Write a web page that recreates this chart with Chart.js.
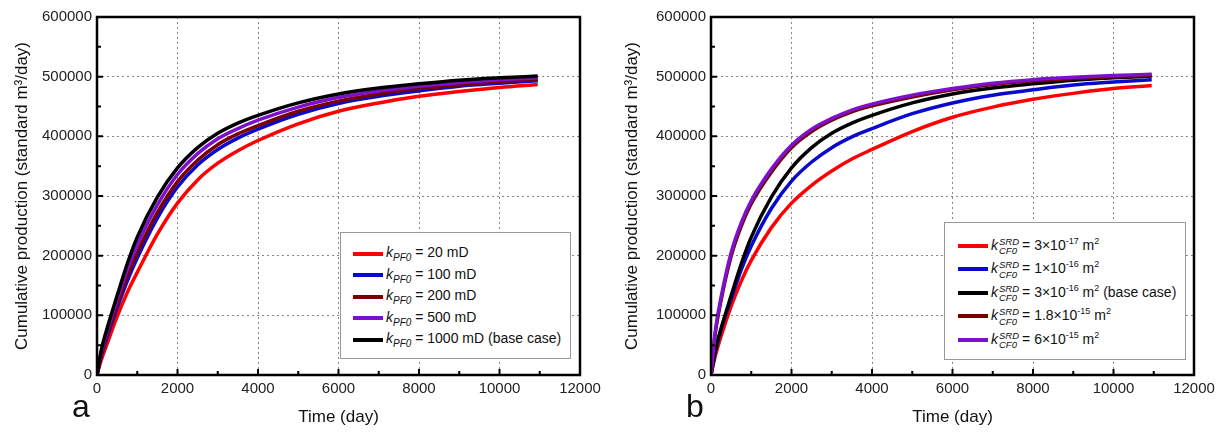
<!DOCTYPE html>
<html>
<head>
<meta charset="utf-8">
<script src="https://cdn.jsdelivr.net/npm/chart.js@4/dist/chart.umd.min.js"></script>
<style>
  body { margin: 0; background: #fff; width: 1220px; height: 433px; position: relative; overflow: hidden;
         font-family: Arial, "Liberation Sans", sans-serif; }
  canvas { position: absolute; top: 0; }
  .legend { position: absolute; background: #fff; border: 1px solid #999; font-size: 14px; color: #111; box-sizing: border-box; }
  .row { display: flex; align-items: center; white-space: nowrap; }
  .swatch { display: inline-block; width: 30px; height: 4px; margin-right: 3px; }
  .row i { font-style: italic; }
  .row sub { font-size: 10px; font-style: italic; vertical-align: -4px; }
  .row sup { font-size: 9px; vertical-align: 6px; }
  .ss { display: inline-block; vertical-align: middle; font-size: 9.5px; font-style: italic; line-height: 9.5px; margin: 0 3px 0 1px; }
  .ss span { display: block; }
  .panel { position: absolute; font-size: 32px; color: #111; }
</style>
</head>
<body>
<canvas id="chartA" width="610" height="433" style="left:0"></canvas>
<canvas id="chartB" width="610" height="433" style="left:610px"></canvas>

<div class="legend" id="legA" style="left:340px; top:232px; width:231px; height:127px; padding:10px 0 0 12px;"></div>
<div class="legend" id="legB" style="left:944px; top:222px; width:242px; height:138px; padding:11px 0 0 13px;"></div>

<div class="panel" style="left:72px; top:388px;">a</div>
<div class="panel" style="left:686px; top:388px;">b</div>

<script>
// time axis (days) shared by every curve
const timeDays = [0, 100, 250, 500, 750, 1000, 1500, 2000, 2500, 3000, 3500, 4000, 5000, 6000, 7000, 8000, 9000, 10000, 10950];

// panel a: fracture permeability k_PF0
const prodPF20   = [0, 24000, 52000, 98000, 138000, 172000, 236000, 288000, 327000, 355000, 376000, 393000, 421000, 442000, 456000, 467000, 475000, 482000, 487000];
const prodPF100  = [0, 30000, 63000, 112000, 157000, 196000, 263000, 315000, 352000, 378000, 397000, 412000, 437000, 455000, 467000, 476000, 484000, 489000, 493000];
const prodPF200  = [0, 33000, 68000, 118000, 165000, 205000, 272000, 324000, 360000, 386000, 404000, 418000, 442000, 459000, 471000, 480000, 486000, 492000, 495000];
const prodPF500  = [0, 37000, 74000, 126000, 176000, 218000, 285000, 336000, 371000, 396000, 413000, 427000, 449000, 465000, 476000, 484000, 490000, 495000, 498000];
const prodPF1000 = [0, 40000, 78000, 133000, 186000, 231000, 298000, 347000, 381000, 405000, 422000, 435000, 456000, 471000, 481000, 488000, 494000, 498000, 501000];

// panel b: SRD permeability k_CF0
const prodCF3e17  = [0, 30000, 65000, 115000, 157000, 192000, 247000, 288000, 318000, 342000, 362000, 378000, 408000, 432000, 449000, 462000, 472000, 480000, 485000];
const prodCF1e16  = [0, 36000, 76000, 127000, 176000, 216000, 279000, 325000, 357000, 381000, 399000, 413000, 438000, 456000, 469000, 478000, 486000, 491000, 495000];
const prodCF3e16  = [0, 40000, 78000, 133000, 186000, 231000, 298000, 347000, 381000, 405000, 422000, 435000, 456000, 471000, 481000, 488000, 494000, 498000, 501000];
const prodCF18e15 = [0, 66000, 125000, 199000, 249000, 287000, 340000, 381000, 408000, 427000, 441000, 451000, 466000, 478000, 487000, 493000, 497000, 500000, 502000];
const prodCF6e15  = [0, 70000, 130000, 205000, 255000, 292000, 345000, 385000, 412000, 430000, 444000, 454000, 469000, 480000, 489000, 495000, 499000, 502000, 504000];

const xTicks = [0, 2000, 4000, 6000, 8000, 10000, 12000];
const yTicks = [0, 100000, 200000, 300000, 400000, 500000, 600000];

const RED = '#ff0000', BLUE = '#0a0acc', MAROON = '#7a0000', PURPLE = '#7d10cc', BLACK = '#000000';

const labelsA = [
  [RED, '<i>k</i><sub>PF0</sub> = 20 mD'],
  [BLUE, '<i>k</i><sub>PF0</sub> = 100 mD'],
  [MAROON, '<i>k</i><sub>PF0</sub> = 200 mD'],
  [PURPLE, '<i>k</i><sub>PF0</sub> = 500 mD'],
  [BLACK, '<i>k</i><sub>PF0</sub> = 1000 mD (base case)']
];
const kSRD = '<i>k</i><span class="ss"><span>SRD</span><span>CF0</span></span>';
const labelsB = [
  [RED, kSRD + '= 3×10<sup>-17</sup> m<sup>2</sup>'],
  [BLUE, kSRD + '= 1×10<sup>-16</sup> m<sup>2</sup>'],
  [BLACK, kSRD + '= 3×10<sup>-16</sup> m<sup>2</sup> (base case)'],
  [MAROON, kSRD + '= 1.8×10<sup>-15</sup> m<sup>2</sup>'],
  [PURPLE, kSRD + '= 6×10<sup>-15</sup> m<sup>2</sup>']
];

function fillLegend(id, rows, rowH) {
  const el = document.getElementById(id);
  el.innerHTML = rows.map(r =>
    '<div class="row" style="height:' + rowH + 'px"><span class="swatch" style="background:' + r[0] + '"></span><span>' + r[1] + '</span></div>'
  ).join('');
}
fillLegend('legA', labelsA, 21.5);
fillLegend('legB', labelsB, 23.5);

// frame plus inward tick marks
const frameTicks = {
  id: 'frameTicks',
  afterDraw(chart) {
    const { ctx, chartArea: a, scales: { x, y } } = chart;
    ctx.save();
    ctx.strokeStyle = '#000';
    ctx.lineWidth = 2;
    ctx.beginPath();
    for (let v = 0; v <= 12000; v += 1000) {
      const px = x.getPixelForValue(v);
      const len = v % 2000 === 0 ? 6 : 4;
      ctx.moveTo(px, a.bottom);
      ctx.lineTo(px, a.bottom - len);
    }
    for (let v = 0; v <= 600000; v += 50000) {
      const py = y.getPixelForValue(v);
      const len = v % 100000 === 0 ? 6 : 4;
      ctx.moveTo(a.left, py);
      ctx.lineTo(a.left + len, py);
    }
    ctx.stroke();
    ctx.lineWidth = 2.5;
    ctx.strokeRect(a.left, a.top, a.right - a.left, a.bottom - a.top);
    ctx.restore();
  }
};

function series(values, color) {
  return {
    data: timeDays.map((t, i) => ({ x: t, y: values[i] })),
    borderColor: color,
    backgroundColor: color,
    borderWidth: 3.5,
    pointRadius: 0,
    fill: false,
    cubicInterpolationMode: 'monotone'
  };
}

function makeChart(id, datasets, yWidth, rightPad) {
  return new Chart(document.getElementById(id), {
    type: 'line',
    data: { datasets: datasets },
    options: {
      responsive: false,
      animation: false,
      devicePixelRatio: 1,
      layout: { padding: { top: 17, right: rightPad, bottom: 0, left: 0 } },
      plugins: { legend: { display: false }, tooltip: { enabled: false } },
      scales: {
        x: {
          type: 'linear', min: 0, max: 12000,
          afterBuildTicks: s => { s.ticks = xTicks.map(v => ({ value: v })); },
          afterFit: s => { s.height = 58; s.paddingLeft = 0; s.paddingRight = 0; },
          grid: { color: '#888', lineWidth: 1, drawTicks: false },
          border: { display: false, dash: [2, 3] },
          ticks: { color: '#222', font: { size: 15, family: 'Arial, "Liberation Sans"' }, padding: 5, maxRotation: 0,
                   callback: v => String(v) },
          title: { display: true, text: 'Time (day)', color: '#111',
                   font: { size: 17, family: 'Arial, "Liberation Sans"' }, padding: { top: 0, bottom: 5 } }
        },
        y: {
          min: 0, max: 600000,
          afterBuildTicks: s => { s.ticks = yTicks.map(v => ({ value: v })); },
          afterFit: s => { s.width = yWidth; s.paddingTop = 0; s.paddingBottom = 0; },
          grid: { color: '#888', lineWidth: 1, drawTicks: false },
          border: { display: false, dash: [2, 3] },
          ticks: { color: '#222', font: { size: 15, family: 'Arial, "Liberation Sans"' }, padding: 5,
                   callback: v => String(v) },
          title: { display: true, text: 'Cumulative production (standard m³/day)', color: '#111',
                   font: { size: 17, family: 'Arial, "Liberation Sans"' }, padding: { top: 12, bottom: 0 } }
        }
      }
    },
    plugins: [frameTicks]
  });
}

// first dataset is drawn on top
makeChart('chartA', [
  series(prodPF1000, BLACK),
  series(prodPF500, PURPLE),
  series(prodPF200, MAROON),
  series(prodPF100, BLUE),
  series(prodPF20, RED)
], 97, 30);

makeChart('chartB', [
  series(prodCF6e15, PURPLE),
  series(prodCF18e15, MAROON),
  series(prodCF3e16, BLACK),
  series(prodCF1e16, BLUE),
  series(prodCF3e17, RED)
], 101, 26);
</script>
</body>
</html>
